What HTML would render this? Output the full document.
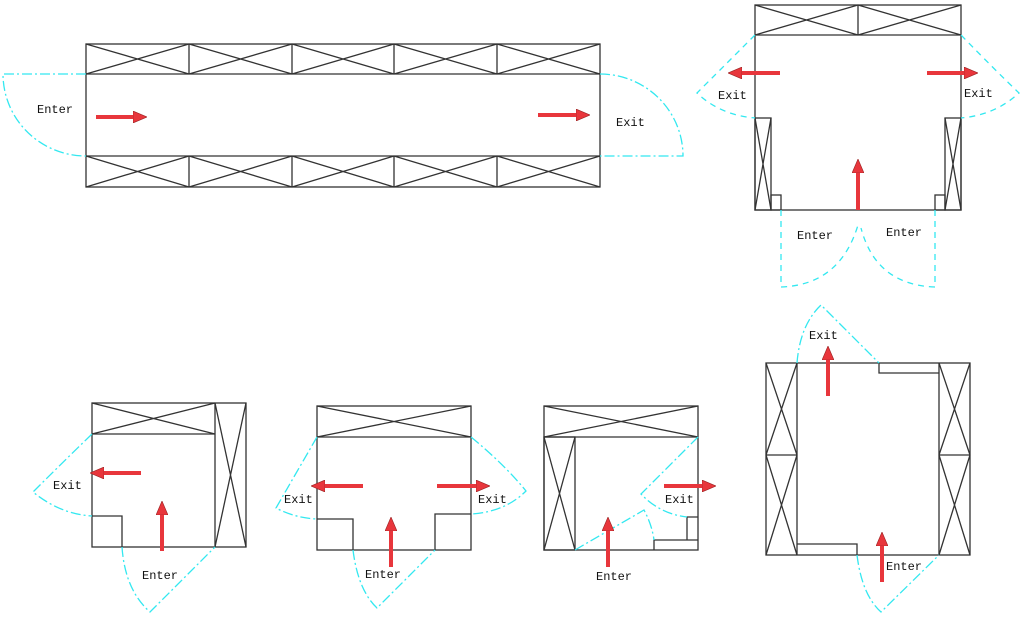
<!DOCTYPE html>
<html><head><meta charset="utf-8"><style>
html,body{margin:0;padding:0;background:#fff;}
svg{display:block}
text{font-family:"Liberation Mono",monospace;font-size:12px;fill:#111}
.w{fill:none;stroke:#333;stroke-width:1.3}
.d{fill:none;stroke:#33e8f0;stroke-width:1.3;stroke-dasharray:10 3 2 3}
.dd{fill:none;stroke:#33e8f0;stroke-width:1.3;stroke-dasharray:6 5}
.a{stroke:#e8363c;stroke-width:4;fill:none;marker-end:url(#h)}
</style></head><body>
<svg width="1024" height="619" viewBox="0 0 1024 619" xmlns="http://www.w3.org/2000/svg">
<defs><marker id="h" markerUnits="userSpaceOnUse" markerWidth="14" markerHeight="12" refX="2" refY="6" orient="auto"><path d="M0,0 L14,6 L0,12 Z" fill="#e8363c" stroke="#922" stroke-width="0.6"/></marker></defs>

<!-- Diagram 1 -->
<g class="w">
<rect x="86" y="44" width="514" height="143"/>
<line x1="86" y1="74" x2="600" y2="74"/><line x1="86" y1="156" x2="600" y2="156"/>
<path d="M189,44V74M292,44V74M394,44V74M497,44V74M189,156V187M292,156V187M394,156V187M497,156V187"/>
<path d="M86,44L189,74M189,44L86,74M189,44L292,74M292,44L189,74M292,44L394,74M394,44L292,74M394,44L497,74M497,44L394,74M497,44L600,74M600,44L497,74"/>
<path d="M86,156L189,187M189,156L86,187M189,156L292,187M292,156L189,187M292,156L394,187M394,156L292,187M394,156L497,187M497,156L394,187M497,156L600,187M600,156L497,187"/>
</g>
<path class="d" d="M86,74H3A83,82 0 0 0 86,156"/>
<path class="d" d="M600,74A83,82 0 0 1 683,156H600"/>
<line class="a" x1="96" y1="117" x2="135" y2="117"/>
<line class="a" x1="538" y1="115" x2="578" y2="115"/>
<text x="37" y="113">Enter</text><text x="616" y="126">Exit</text>

<!-- Diagram 2 -->
<g class="w">
<rect x="755" y="5" width="206" height="205"/>
<line x1="755" y1="35" x2="961" y2="35"/><line x1="858" y1="5" x2="858" y2="35"/>
<path d="M755,5L858,35M858,5L755,35M858,5L961,35M961,5L858,35"/>
<rect x="755" y="118" width="16" height="92"/><path d="M755,118L771,210M771,118L755,210"/>
<rect x="945" y="118" width="16" height="92"/><path d="M945,118L961,210M961,118L945,210"/>
<rect x="771" y="195" width="10" height="15"/><rect x="935" y="195" width="10" height="15"/>
</g>
<path class="dd" d="M755,35Q720,70 697,93Q720,115 755,118"/>
<path class="dd" d="M961,35Q995,70 1019,93Q995,115 961,118"/>
<path class="dd" d="M781,210V287Q840,285 858,225"/>
<path class="dd" d="M935,210V287Q876,285 861,228"/>
<line class="a" x1="780" y1="73" x2="740" y2="73"/>
<line class="a" x1="927" y1="73" x2="966" y2="73"/>
<line class="a" x1="858" y1="210" x2="858" y2="171"/>
<text x="718" y="99">Exit</text><text x="964" y="97">Exit</text>
<text x="797" y="239">Enter</text><text x="886" y="236">Enter</text>

<!-- Diagram 3 -->
<g class="w">
<rect x="92" y="403" width="154" height="144"/>
<line x1="92" y1="434" x2="215" y2="434"/><line x1="215" y1="403" x2="215" y2="547"/>
<path d="M92,403L215,434M215,403L92,434M215,403L246,547M246,403L215,547"/>
<path d="M92,516H122V547"/>
</g>
<path class="d" d="M92,434Q60,465 33,492Q60,514 92,516"/>
<path class="d" d="M122,547Q125,590 150,612L215,547"/>
<line class="a" x1="141" y1="473" x2="102" y2="473"/>
<line class="a" x1="162" y1="551" x2="162" y2="513"/>
<text x="53" y="489">Exit</text><text x="142" y="579">Enter</text>

<!-- Diagram 4 -->
<g class="w">
<rect x="317" y="406" width="154" height="144"/>
<line x1="317" y1="437" x2="471" y2="437"/>
<path d="M317,406L471,437M471,406L317,437"/>
<path d="M317,519H353V550M471,514H435V550"/>
</g>
<path class="d" d="M317,437Q295,475 276,508Q295,518 317,519"/>
<path class="d" d="M471,437Q505,465 526,491Q505,512 471,514"/>
<path class="d" d="M353,550Q358,590 377,608L435,550"/>
<line class="a" x1="363" y1="486" x2="323" y2="486"/>
<line class="a" x1="437" y1="486" x2="478" y2="486"/>
<line class="a" x1="391" y1="567" x2="391" y2="529"/>
<text x="284" y="503">Exit</text><text x="478" y="503">Exit</text><text x="365" y="578">Enter</text>

<!-- Diagram 5 -->
<g class="w">
<rect x="544" y="406" width="154" height="144"/>
<line x1="544" y1="437" x2="698" y2="437"/>
<path d="M544,406L698,437M698,406L544,437"/>
<rect x="544" y="437" width="31" height="113"/><path d="M544,437L575,550M575,437L544,550"/>
<path d="M654,550V540H698M687,540V517H698"/>
</g>
<path class="d" d="M698,437L641,494Q660,514 687,517"/>
<path class="d" d="M575,550L644,510Q652,525 654,540"/>
<line class="a" x1="664" y1="486" x2="704" y2="486"/>
<line class="a" x1="608" y1="567" x2="608" y2="529"/>
<text x="665" y="503">Exit</text><text x="596" y="580">Enter</text>

<!-- Diagram 6 -->
<g class="w">
<rect x="766" y="363" width="204" height="192"/>
<path d="M797,363V555M939,363V555M766,455H797M939,455H970"/>
<path d="M766,363L797,455M797,363L766,455M766,455L797,555M797,455L766,555"/>
<path d="M939,363L970,455M970,363L939,455M939,455L970,555M970,455L939,555"/>
<path d="M879,363V373H939M797,544H857V555"/>
</g>
<path class="d" d="M797,363Q800,325 821,305L879,363"/>
<path class="d" d="M857,555Q862,595 881,612L939,555"/>
<line class="a" x1="828" y1="396" x2="828" y2="358"/>
<line class="a" x1="882" y1="582" x2="882" y2="544"/>
<text x="809" y="339">Exit</text><text x="886" y="570">Enter</text>
</svg>
</body></html>
